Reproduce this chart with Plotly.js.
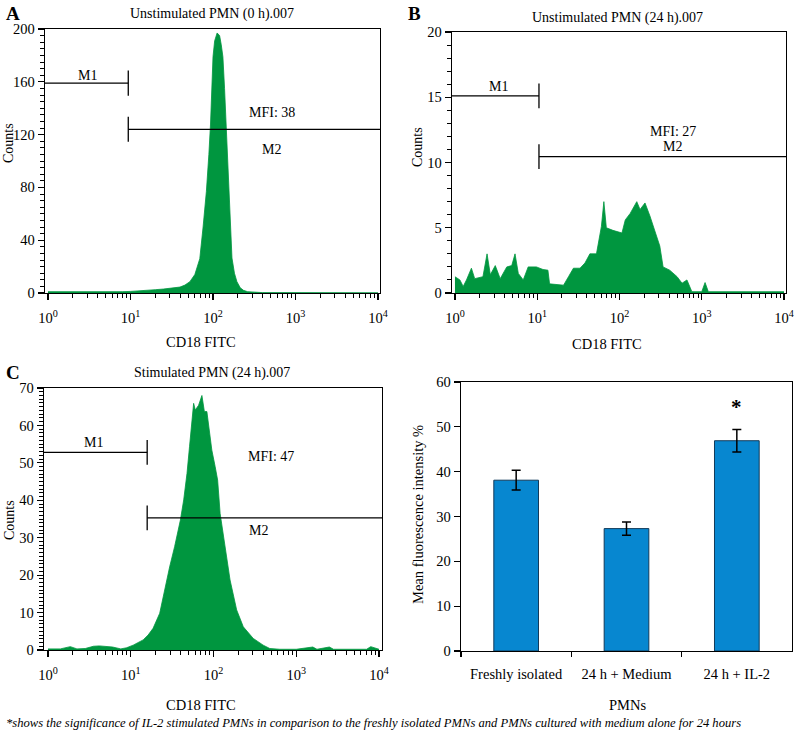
<!DOCTYPE html>
<html>
<head>
<meta charset="utf-8">
<script src="https://cdn.plot.ly/plotly-3.0.1.min.js"></script>
<style>html,body{margin:0;padding:0;background:#fff;}#chart{width:796px;height:733px;}</style>
</head>
<body>
<div id="chart"></div>
<script>
// ---------- DATA ----------
// Panel A: Unstimulated PMN (0 h) — x in decades (log10 of CD18 FITC), counts
const aDecade = [0,0.1,0.2,0.3,0.4,0.5,0.6,0.7,0.8,0.9,1.0,1.1,1.2,1.3,1.4,1.5,1.6,1.66,1.72,1.78,1.84,1.88,1.92,1.95,1.97,2.0,2.02,2.05,2.08,2.1,2.12,2.14,2.16,2.18,2.19,2.21,2.23,2.26,2.29,2.33,2.37,2.42,2.5,2.6,2.8,3.0,3.3,3.6,4.0];
const aCounts = [1,1,0.6,1,1,0.8,1,1,0.8,1,1.2,1.5,2,2.5,3,3.5,4.5,6,8.6,14,26,50,77,105,128,179,191,197,195,188,179,155,128,100,77,50,26.5,15,8.6,4,2,1,0.5,0.3,0.3,0.2,0.2,0.2,0.2];

// Panel B: Unstimulated PMN (24 h)
const bDecade = [0,0.06,0.10,0.14,0.20,0.24,0.34,0.39,0.43,0.49,0.55,0.63,0.69,0.73,0.77,0.83,0.89,0.99,1.07,1.13,1.15,1.32,1.38,1.44,1.52,1.58,1.64,1.72,1.78,1.81,1.84,1.92,2.03,2.07,2.13,2.21,2.25,2.31,2.37,2.43,2.49,2.53,2.61,2.70,2.76,2.82,2.88,3.00,3.04,3.08,3.5,4.0];
const bCounts = [1.25,1.0,0.5,1.0,1.9,1.1,1.25,3.0,1.4,2.1,1.1,2.0,2.1,3.0,1.5,1.0,2.0,2.0,1.8,1.75,0.7,0.6,1.25,1.9,1.9,2.3,3.0,3.0,5.1,7.0,5.0,4.8,4.6,5.6,6.1,7.0,6.4,6.9,5.9,4.8,3.6,2.0,1.75,1.25,0.75,1.0,0.1,0.1,0.8,0.1,0.1,0.1];

// Panel C: Stimulated PMN (24 h)
const cDecade = [0,0.15,0.27,0.35,0.45,0.55,0.62,0.7,0.78,0.88,0.95,1.03,1.1,1.15,1.21,1.27,1.35,1.43,1.47,1.53,1.6,1.64,1.68,1.71,1.74,1.76,1.78,1.82,1.86,1.89,1.92,1.94,1.98,2.02,2.05,2.08,2.14,2.2,2.28,2.36,2.48,2.6,2.68,2.8,3.0,3.2,3.25,3.4,3.45,3.6,3.85,3.9,4.0];
const cCounts = [0.3,0.3,0.9,0.3,0.4,1.0,1.1,0.9,0.8,0.3,0.6,1.3,2.0,2.7,4.0,5.8,9.8,18.7,22.2,27.6,34.7,40.1,47.2,54.3,60.5,65.9,64.1,65.4,68,63.7,63.7,59.7,53.4,49,45.4,36.5,27.6,18.7,10.7,6.2,3.1,1.3,0.4,0.2,0.2,0.8,0.2,0.8,0.2,0.2,0.2,0.9,0.2];

// Gates [M1 end (fluorescence), M1 level, M2 start, M2 level] per panel
const gatesA = [9.4, 159, 9.4, 124];
const gatesB = [10.5, 15.1, 10.5, 10.45];
const gatesC = [15.8, 52.8, 15.8, 35.3];
const mfiLabels = ["MFI: 38", "MFI: 27", "MFI: 47"];

// Panel D: bar chart
const barCategories = ["Freshly isolated", "24 h + Medium", "24 h + IL-2"];
const barMeans = [38.1, 27.3, 46.9];
const barErrors = [2.2, 1.5, 2.5];

// x tick labels (decades)
const decadeVals = [1, 10, 100, 1000, 10000];
const decadeText = ["10<sup>0</sup>", "10<sup>1</sup>", "10<sup>2</sup>", "10<sup>3</sup>", "10<sup>4</sup>"];

// ---------- BUILD ----------
const W = 796, H = 733;
const FONT = "Liberation Serif";
const GREEN = "#00963f";
const px = v => v / W;
const py = v => 1 - v / H;

const minorVals = [];
for (let e = 0; e < 4; e++) for (let k = 2; k <= 9; k++) minorVals.push(k * Math.pow(10, e));

function histTrace(dec, cnt, xa, ya) {
  return {
    type: "scatter", mode: "lines",
    x: dec.map(d => Math.pow(10, d)), y: cnt,
    xaxis: xa, yaxis: ya,
    fill: "tozeroy", fillcolor: GREEN,
    line: {color: GREEN, width: 0.8},
    hoverinfo: "skip", showlegend: false
  };
}
function gateTraces(g, xa, ya, hHalf) {
  const line = {color: "#000", width: 1.3};
  const base = {type: "scatter", mode: "lines", xaxis: xa, yaxis: ya, line: line, hoverinfo: "skip", showlegend: false};
  return [
    Object.assign({}, base, {x: [0.5, g[0]], y: [g[1], g[1]]}),
    Object.assign({}, base, {x: [g[0], g[0]], y: [g[1] - hHalf, g[1] + hHalf]}),
    Object.assign({}, base, {x: [g[2], 20000], y: [g[3], g[3]]}),
    Object.assign({}, base, {x: [g[2], g[2]], y: [g[3] - hHalf, g[3] + hHalf]})
  ];
}

const traces = [
  histTrace(aDecade, aCounts, "x", "y"),
  histTrace(bDecade, bCounts, "x2", "y2"),
  histTrace(cDecade, cCounts, "x3", "y3"),
  ...gateTraces(gatesA, "x", "y", 9.5),
  ...gateTraces(gatesB, "x2", "y2", 0.95),
  ...gateTraces(gatesC, "x3", "y3", 3.3),
  {
    type: "bar", x: barCategories, y: barMeans, xaxis: "x4", yaxis: "y4",
    width: 0.405,
    marker: {color: "#0787d0", line: {color: "#123a5a", width: 1}},
    error_y: {type: "data", array: barErrors, visible: true, color: "#000", thickness: 1.5, width: 4.5},
    hoverinfo: "skip", showlegend: false
  }
];

const TICKSIZE = 14.5;
function logX(domain, range) {
  return {
    domain: domain, type: "log", range: range,
    tickvals: decadeVals, ticktext: decadeText,
    ticks: "outside", ticklen: 6, tickwidth: 1.2, tickcolor: "#000",
    minor: {tickvals: minorVals, ticks: "outside", ticklen: 3.5, tickwidth: 1, tickcolor: "#000"},
    showline: true, linecolor: "#000", linewidth: 1.3, mirror: true,
    showgrid: false, zeroline: false, ticklabelstandoff: 5,
    tickfont: {family: FONT, size: TICKSIZE, color: "#000"}, fixedrange: true
  };
}
function linY(domain, range, dtick, minorD) {
  const o = {
    domain: domain, range: range, dtick: dtick, tick0: 0,
    ticks: "outside", ticklen: 6, tickwidth: 1.2, tickcolor: "#000",
    showline: true, linecolor: "#000", linewidth: 1.3, mirror: true,
    showgrid: false, zeroline: false,
    tickfont: {family: FONT, size: TICKSIZE, color: "#000"}, fixedrange: true
  };
  if (minorD) o.minor = {dtick: minorD, ticks: "outside", ticklen: 3.5, tickwidth: 1, tickcolor: "#000"};
  return o;
}

const layout = {
  width: W, height: H,
  margin: {l: 0, r: 0, t: 0, b: 0},
  paper_bgcolor: "#fff", plot_bgcolor: "#fff",
  showlegend: false,
  font: {family: FONT, color: "#000"},
  xaxis: Object.assign(logX([px(45), px(380)], [-0.036, 4.024]), {anchor: "y"}),
  yaxis: Object.assign(linY([py(293), py(29)], [0, 200], 40, 5), {anchor: "x"}),
  xaxis2: Object.assign(logX([px(452), px(786)], [-0.036, 4.024]), {anchor: "y2"}),
  yaxis2: Object.assign(linY([py(293), py(32)], [0, 20], 5, 1), {anchor: "x2"}),
  xaxis3: Object.assign(logX([px(44), px(382)], [-0.048, 4.036]), {anchor: "y3"}),
  yaxis3: Object.assign(linY([py(650), py(388)], [0, 70], 10, 1), {anchor: "x3"}),
  xaxis4: {
    domain: [px(461), px(792)], anchor: "y4", type: "category", range: [-0.5, 2.5],
    tickson: "boundaries", ticks: "outside", ticklen: 5, tickwidth: 1.2, tickcolor: "#000",
    showline: true, linecolor: "#000", linewidth: 1.3, mirror: true, showgrid: false,
    ticklabelstandoff: 9,
    tickfont: {family: FONT, size: 14.5, color: "#000"}, fixedrange: true
  },
  yaxis4: Object.assign(linY([py(651), py(382)], [0, 60], 10, null), {anchor: "x4"}),
  annotations: []
};

function paperText(text, x, y, size, opts) {
  return Object.assign({
    text: text, xref: "paper", yref: "paper", x: px(x), y: py(y),
    xanchor: "center", yanchor: "middle", showarrow: false,
    font: {family: FONT, size: size, color: "#000"}
  }, opts || {});
}
function dataText(text, xa, ya, xDec, yVal, size) {
  return {
    text: text, xref: xa, yref: ya, x: xDec, y: yVal,
    xanchor: "center", yanchor: "middle", showarrow: false,
    font: {family: FONT, size: size, color: "#000"}
  };
}
const A = layout.annotations;
// panel letters
A.push(paperText("<b>A</b>", 13, 13, 19));
A.push(paperText("<b>B</b>", 414, 13, 19));
A.push(paperText("<b>C</b>", 13, 372, 19));
// panel titles
A.push(paperText("Unstimulated PMN (0 h).007", 212, 14, 14));
A.push(paperText("Unstimulated PMN (24 h).007", 617, 18, 14));
A.push(paperText("Stimulated PMN (24 h).007", 212, 373, 14));
// axis titles
A.push(paperText("Counts", 8, 143, 14, {textangle: -90}));
A.push(paperText("Counts", 417, 147, 14, {textangle: -90}));
A.push(paperText("Counts", 9, 520, 14, {textangle: -90}));
A.push(paperText("CD18 FITC", 201, 342, 14.5));
A.push(paperText("CD18 FITC", 607, 344, 14.5));
A.push(paperText("CD18 FITC", 201, 705, 14.5));
A.push(paperText("PMNs", 627, 705, 14.5));
A.push(paperText("Mean fluorescence intensity %", 418, 515, 14.5, {textangle: -90}));
// gate labels
A.push(dataText("M1", "x", "y", 0.48, 165, 14));
A.push(dataText(mfiLabels[0], "x", "y", 2.71, 137, 14));
A.push(dataText("M2", "x", "y", 2.71, 109, 14));
A.push(dataText("M1", "x2", "y2", 0.53, 15.8, 14));
A.push(dataText(mfiLabels[1], "x2", "y2", 2.65, 12.4, 14));
A.push(dataText("M2", "x2", "y2", 2.65, 11.2, 14));
A.push(dataText("M1", "x3", "y3", 0.55, 55.4, 14));
A.push(dataText(mfiLabels[2], "x3", "y3", 2.70, 51.6, 14));
A.push(dataText("M2", "x3", "y3", 2.54, 31.9, 14));
// significance asterisk
A.push({text: "<b>*</b>", xref: "x4", yref: "y4", x: barCategories[2], y: 54.5,
  xanchor: "center", yanchor: "middle", showarrow: false,
  font: {family: FONT, size: 21, color: "#000"}});
// footnote
A.push(paperText("<i>*shows the significance of IL-2 stimulated PMNs in comparison to the freshly isolated PMNs and PMNs cultured with medium alone for 24 hours</i>",
  4, 723, 12.6, {xanchor: "left"}));

Plotly.newPlot("chart", traces, layout, {displayModeBar: false, staticPlot: true});
</script>
</body>
</html>
